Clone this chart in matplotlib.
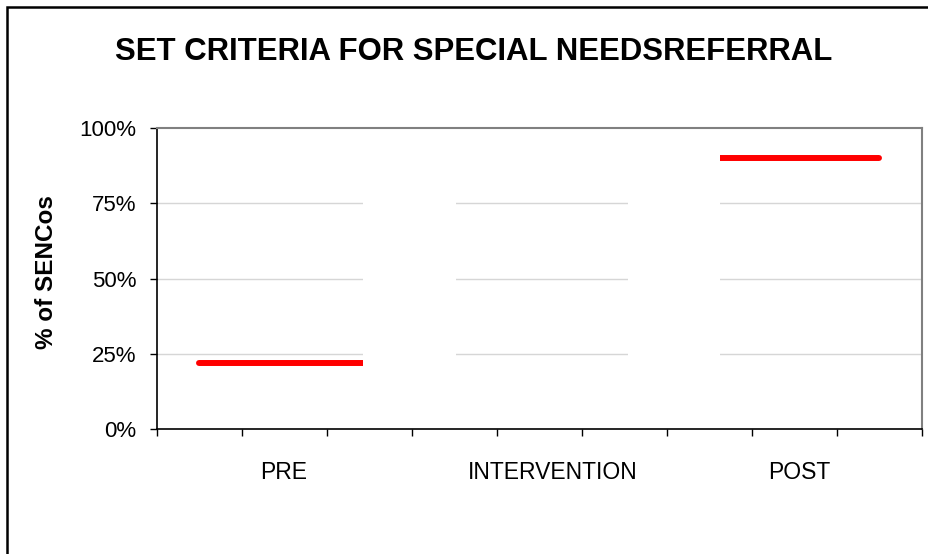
import matplotlib.pyplot as plt
from matplotlib.patches import Rectangle

plt.rcParams['font.family'] = ['Liberation Sans', 'DejaVu Sans']

# data
categories = ["PRE", "INTERVENTION", "POST"]
cat_pos = [1.49, 4.66, 7.56]          # label positions on the 9-slot axis
line_centers = [1.5, 4.5, 7.5]
values = [0.22, None, 0.90]
yticks = [0, 0.25, 0.5, 0.75, 1.0]
ytick_labels = ["0%", "25%", "50%", "75%", "100%"]
gaps = [(2.42, 3.52), (5.54, 6.62)]

fig = plt.figure(figsize=(9.29, 5.54), dpi=100)
ax = fig.add_axes([157/929, 1-429/554, 765/929, 301/554])

ax.set_xlim(0, 9)
ax.set_ylim(0, 1)

for y in yticks[1:-1]:
    ax.axhline(y, color='#d6d6d6', lw=1.0, zorder=1)

for c, v in zip(line_centers, values):
    if v is None:
        continue
    ax.hlines(v, c - 1.0, c + 1.0, color='red', lw=4.3, capstyle='round', zorder=1.5)

# white gaps between category blocks (hide grid there)
for a, b in gaps:
    ax.axvspan(a, b, color='white', lw=0, zorder=2)

ax.set_yticks(yticks)
ax.set_yticklabels(ytick_labels, fontsize=16)
ax.set_xticks(range(10))
ax.set_xticklabels([])
ax.tick_params(axis='both', direction='out', length=5, width=1, color='black')
ax.tick_params(axis='y', pad=10)

for x, lab in zip(cat_pos, categories):
    ax.text(x, -0.146, lab, ha='center', va='center', fontsize=16.5,
            transform=ax.get_xaxis_transform())

for s in ['top', 'right']:
    ax.spines[s].set_color('#808080')
    ax.spines[s].set_linewidth(1.5)
for s in ['left', 'bottom']:
    ax.spines[s].set_color('black')
    ax.spines[s].set_linewidth(1.2)
for s in ax.spines.values():
    s.set_zorder(3)

fig.text(47/929, 1-272/554, "% of SENCos", rotation=90, ha='center', va='center',
         fontsize=17.5, fontweight='bold')

fig.text(474/929, 1-52/554, "SET CRITERIA FOR SPECIAL NEEDSREFERRAL",
         ha='center', va='center', fontsize=22.4, fontweight='bold')

# outer chart frame (only left and top edges fall inside the image)
fig.patches.append(Rectangle((7/929, -0.05), 1.1, 1.05 - 7/554,
                             transform=fig.transFigure, fill=False,
                             edgecolor='black', lw=1.8))

fig.savefig("out.png", dpi=100)
